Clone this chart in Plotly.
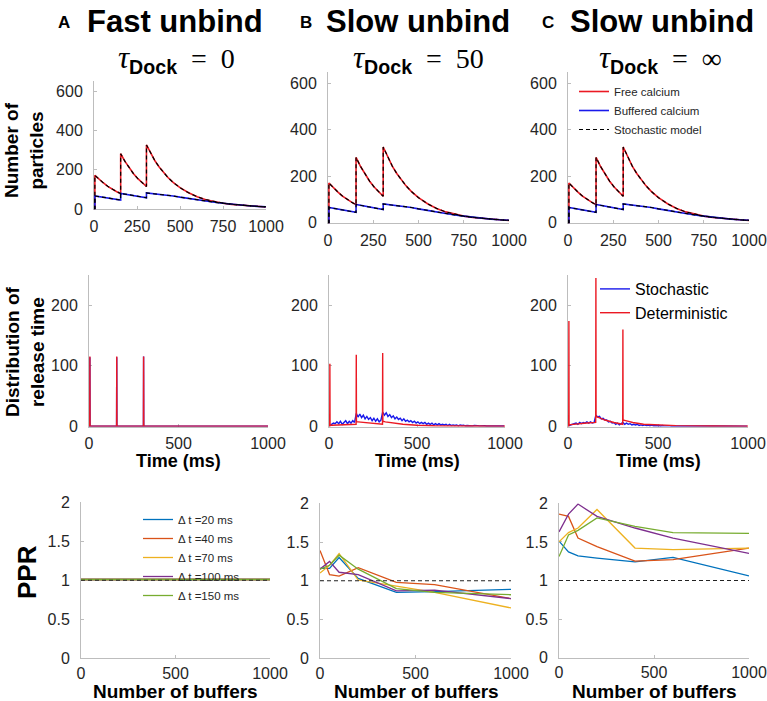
import plotly.graph_objects as go

# ---------------- data ----------------
# Top row: number of particles vs time (ms)
t_top = [0, 5, 5, 30, 55, 80, 105, 130, 155, 155, 180, 205, 230, 255, 280, 305,
         305, 330, 355, 380, 405, 430, 460, 500, 550, 600, 650, 700, 750, 800, 850, 900, 950, 1000]
free_calcium = [0, 0, 171, 150, 132, 115, 101, 89, 78, 281, 242, 208, 179, 154, 132, 114,
                326, 282, 244, 212, 184, 160, 135, 108, 82, 62, 47, 37, 29, 23, 19, 15, 12, 10]
buffered_calcium = [0, 0, 66, 62, 59, 55, 52, 48, 45, 79, 75, 72, 68, 64, 60, 57,
                    81, 79, 77, 75, 72, 70, 66, 60, 53, 46, 40, 34, 29, 24, 20, 16, 13, 11]

# Middle row: distribution of release time
t_det_A = [0, 4, 5, 6, 154, 155, 156, 304, 305, 306, 1000]
det_A = [0, 0, 115, 0, 0, 115, 0, 0, 115, 0, 0]
stoch_A = [0, 0, 114, 0, 0, 114, 0, 0, 115, 0, 0]

t_det_BC = [0, 4, 5, 6, 15, 55, 105, 154, 155, 156, 165, 205, 255, 304, 305, 306,
            320, 360, 420, 500, 600, 800, 1000]
det_B = [0, 0, 103, 1, 1.5, 2, 2.5, 3, 118, 7, 7, 6, 4.5, 3, 121, 8, 7, 5, 3, 1.5, 0.5, 0.1, 0]
det_C = [0, 0, 174, 2, 2.5, 4, 5, 6, 245, 16, 15, 10, 6, 3, 160, 10, 9, 6, 3, 1.5, 0.7, 0.2, 0]

stoch_B = [1, 3, 5, 4, 7, 4, 8, 3, 7, 9, 4, 8, 5, 9, 6,
           21, 15, 20, 14, 18, 12, 16, 11, 14, 9, 13, 8, 12, 7, 10,
           23, 18, 22, 16, 19, 14, 17, 12, 15, 11,
           13, 9, 12, 8, 10, 7, 9, 6, 8, 5,
           7, 4, 6, 4, 6, 3, 5, 3, 5, 2,
           4, 2, 4, 2, 3, 2, 3, 1, 3, 1,
           2, 1, 2, 0.5, 2, 1, 1.5, 0.5, 1, 0.5,
           1, 0.3, 1, 0.3, 0.8, 0.3, 0.6, 0.2, 0.5, 0.2,
           0.4, 0.1, 0.3, 0.1, 0.3, 0.1, 0.2, 0.1, 0.2, 0.1]
stoch_C = [1, 2, 3, 3, 5, 3, 6, 4, 6, 5, 7, 5, 7, 5, 6,
           18, 15, 16, 12, 13, 10, 10, 7, 8, 5, 6, 3, 5, 2, 4,
           6, 3, 5, 3, 4, 2, 3, 2, 3, 1,
           2, 1, 2, 1, 1.5, 0.5, 1.5, 0.5, 1, 0.5,
           1, 0.3, 1, 0.3, 0.6, 0.3, 0.6, 0.2, 0.4, 0.2,
           0.3, 0.2, 0.3, 0.1, 0.3, 0.1, 0.2, 0.1, 0.2, 0.1,
           0.2, 0.1, 0.1, 0.1, 0.1, 0.1, 0.1, 0.1, 0.1, 0.1,
           0.1, 0.1, 0.1, 0.1, 0.1, 0.1, 0.1, 0.1, 0.1, 0.1,
           0, 0, 0, 0, 0, 0, 0, 0, 0, 0]
t_stoch = [5 + 10 * i for i in range(len(stoch_B))]

# Bottom row: PPR vs number of buffers
buffers = [0, 50, 100, 200, 400, 600, 1000]
dt_labels = ["Δ t =20 ms", "Δ t =40 ms", "Δ t =70 ms", "Δ t =100 ms", "Δ t =150 ms"]
ppr_A = [
    [1.01, 1.01, 1.01, 1.01, 1.01, 1.01, 1.01],
    [1.01, 1.01, 1.01, 1.01, 1.01, 1.01, 1.01],
    [1.01, 1.01, 1.01, 1.01, 1.01, 1.01, 1.01],
    [1.01, 1.01, 1.01, 1.01, 1.01, 1.01, 1.01],
    [1.01, 1.01, 1.01, 1.01, 1.01, 1.01, 1.01],
]
ppr_B = [
    [1.16, 1.16, 1.30, 1.03, 0.85, 0.86, 0.89],
    [1.39, 1.08, 1.06, 1.17, 0.98, 0.95, 0.77],
    [1.10, 1.20, 1.35, 1.01, 0.93, 0.85, 0.65],
    [1.15, 1.25, 1.11, 1.08, 0.87, 0.88, 0.77],
    [1.15, 1.20, 1.33, 1.15, 0.90, 0.85, 0.82],
]
ppr_C = [
    [1.51, 1.37, 1.32, 1.29, 1.24, 1.30, 1.06],
    [1.86, 1.83, 1.55, 1.44, 1.25, 1.27, 1.42],
    [1.50, 1.62, 1.68, 1.92, 1.42, 1.40, 1.42],
    [1.63, 1.86, 1.99, 1.83, 1.68, 1.55, 1.35],
    [1.31, 1.59, 1.65, 1.81, 1.70, 1.62, 1.61],
]
ref_x = [0, 1000]
ref_y = [1, 1]

# ---------------- styling ----------------
W, H = 767, 701
FONT = "Liberation Sans, Arial, sans-serif"
RED = "rgb(235,25,35)"
BLUE = "rgb(25,25,235)"
MCOL = ["#0072BD", "#D95319", "#EDB120", "#7E2F8E", "#77AC30"]
AX = "#bdbdbd"
TXT = "#262626"


def px(x):
    return x / W


def py(y):
    return 1 - y / H


def xd(a, b):
    return [px(a), px(b)]


def yd(top, bottom):
    return [py(bottom), py(top)]


fig = go.Figure()

# panel geometry (pixel) : (x0, x1, ytop, ybottom)
geo = {
    1: (94, 266, 81.3, 209.3), 2: (328, 509, 71.6, 223.3), 3: (568, 749, 71.6, 223.3),
    4: (89, 268, 275.0, 426.7), 5: (329, 505, 275.0, 426.7), 6: (568, 748, 275.0, 426.7),
    7: (81, 270, 502.3, 658.3), 8: (320, 511, 503.3, 658.3), 9: (559, 749, 503.3, 657.7),
}


def axref(i):
    return ("x" if i == 1 else f"x{i}"), ("y" if i == 1 else f"y{i}")


# top row
for i in (1, 2, 3):
    xa, ya = axref(i)
    show = i == 3
    fig.add_trace(go.Scatter(x=t_top, y=free_calcium, mode="lines", line=dict(color=RED, width=1.6),
                             name="Free calcium", xaxis=xa, yaxis=ya, showlegend=show, legend="legend"))
    fig.add_trace(go.Scatter(x=t_top, y=buffered_calcium, mode="lines", line=dict(color=BLUE, width=1.6),
                             name="Buffered calcium", xaxis=xa, yaxis=ya, showlegend=show, legend="legend"))
    fig.add_trace(go.Scatter(x=t_top, y=free_calcium, mode="lines",
                             line=dict(color="black", width=1.2, dash="4px,3px"),
                             name="Stochastic model", xaxis=xa, yaxis=ya, showlegend=show, legend="legend"))
    fig.add_trace(go.Scatter(x=t_top, y=buffered_calcium, mode="lines",
                             line=dict(color="black", width=1.2, dash="4px,3px"),
                             name="Stochastic model", xaxis=xa, yaxis=ya, showlegend=False))

# middle row
mid = {4: (t_det_A, stoch_A, t_det_A, det_A), 5: (t_stoch, stoch_B, t_det_BC, det_B),
       6: (t_stoch, stoch_C, t_det_BC, det_C)}
for i, (ts, vs, td, vd) in mid.items():
    xa, ya = axref(i)
    show = i == 6
    fig.add_trace(go.Scatter(x=ts, y=vs, mode="lines", line=dict(color=BLUE, width=1.4),
                             name="Stochastic", xaxis=xa, yaxis=ya, showlegend=show, legend="legend2"))
    fig.add_trace(go.Scatter(x=td, y=vd, mode="lines", line=dict(color=RED, width=1.4),
                             name="Deterministic", xaxis=xa, yaxis=ya, showlegend=show, legend="legend2"))

# bottom row
for i, data in ((7, ppr_A), (8, ppr_B), (9, ppr_C)):
    xa, ya = axref(i)
    for k in range(5):
        fig.add_trace(go.Scatter(x=buffers, y=data[k], mode="lines", line=dict(color=MCOL[k], width=1.3),
                                 name=dt_labels[k], xaxis=xa, yaxis=ya, showlegend=(i == 7), legend="legend3"))
    fig.add_trace(go.Scatter(x=ref_x, y=ref_y, mode="lines", line=dict(color="#222", width=1.1, dash="4px,3px"),
                             xaxis=xa, yaxis=ya, showlegend=False, hoverinfo="skip"))

common = dict(showgrid=False, zeroline=False, showline=True, linecolor=AX, linewidth=1,
              ticks="inside", ticklen=3, tickcolor=AX, layer="below traces", automargin=False,
              tickfont=dict(family=FONT, size=16, color=TXT))

layout_axes = {}
for i, (x0, x1, yt, yb) in geo.items():
    xn = "xaxis" if i == 1 else f"xaxis{i}"
    yn = "yaxis" if i == 1 else f"yaxis{i}"
    xa, ya = axref(i)
    if i <= 3:
        xr, xt = [0, 1000], [0, 250, 500, 750, 1000]
        yr, yt_ = [-2, 650], [0, 200, 400, 600]
    elif i <= 6:
        xr, xt = [0, 1000], [0, 500, 1000]
        yr, yt_ = [-1, 250], [0, 100, 200]
    else:
        xr, xt = [0, 1000], [0, 500, 1000]
        yr, yt_ = [0, 2], [0, 0.5, 1, 1.5, 2]
    layout_axes[xn] = dict(common, domain=xd(x0, x1), range=xr, tickvals=xt, anchor=ya,
                           ticklabelstandoff=(0 if i >= 7 else 2))
    layout_axes[yn] = dict(common, domain=yd(yt, yb), range=yr, tickvals=yt_, anchor=xa,
                           ticklabelstandoff=7)

fig.update_layout(**layout_axes)


def ann(text, x, y, size, bold=True, angle=0, family=FONT, color="black"):
    return dict(text=f"<b>{text}</b>" if bold else text, x=px(x), y=py(y), xref="paper", yref="paper",
                xanchor="center", yanchor="middle", showarrow=False, textangle=angle,
                font=dict(family=family, size=size, color=color))


def tau(val):
    return ('<span style="font-family:Liberation Serif;font-size:31px"><i>τ</i></span>'
            '<sub><b>Dock</b></sub>'
            f'<span style="font-family:Liberation Serif">  =  {val}</span>')


annotations = [
    ann("A", 64, 23, 17), ann("Fast unbind", 175, 22, 31),
    ann("B", 306, 23, 17), ann("Slow unbind", 418, 22, 31),
    ann("C", 548, 23, 17), ann("Slow unbind", 662, 22, 31),
    ann(tau("0"), 176, 59, 28, bold=False, family=FONT),
    ann(tau("50"), 418, 59, 28, bold=False, family=FONT),
    ann(tau("∞"), 660, 59, 28, bold=False, family=FONT),
    ann("Number of<br>particles", 24, 150, 19, angle=-90),
    ann("Distribution of<br>release time", 25, 352, 19, angle=-90),
    ann("PPR", 27, 572, 26, angle=-90),
    ann("Time (ms)", 178, 461, 18), ann("Time (ms)", 417, 461, 18), ann("Time (ms)", 658, 461, 18),
    ann("Number of buffers", 175, 691, 19), ann("Number of buffers", 416, 691, 19),
    ann("Number of buffers", 654, 691, 19),
]

fig.update_layout(
    width=W, height=H, margin=dict(l=0, r=0, t=0, b=0),
    paper_bgcolor="white", plot_bgcolor="white",
    annotations=annotations,
    legend=dict(x=px(574), y=py(77), xanchor="left", yanchor="top", bgcolor="rgba(0,0,0,0)",
                font=dict(family=FONT, size=11.5, color=TXT), itemwidth=30, tracegroupgap=0),
    legend2=dict(x=px(595), y=py(272), xanchor="left", yanchor="top", bgcolor="rgba(0,0,0,0)",
                 font=dict(family=FONT, size=16, color="black"), itemwidth=30),
    legend3=dict(x=px(138), y=py(505), xanchor="left", yanchor="top", bgcolor="rgba(0,0,0,0)",
                 font=dict(family=FONT, size=11.5, color=TXT), itemwidth=30),
    showlegend=True,
)

fig.write_html("out.html", config={"displayModeBar": False},
               post_script="document.body.style.margin='0px';")
